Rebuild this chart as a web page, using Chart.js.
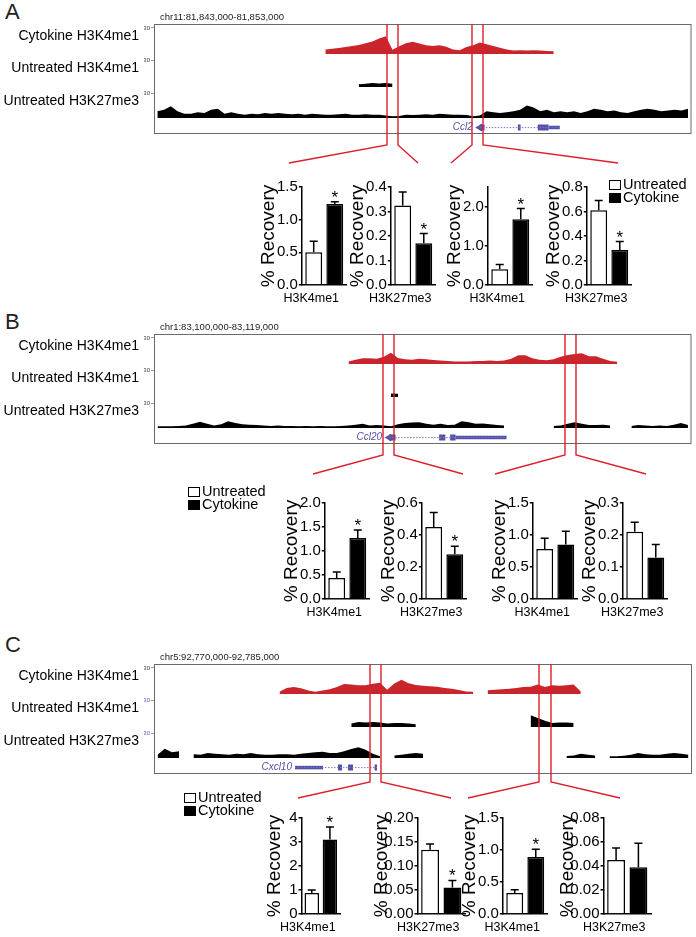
<!DOCTYPE html>
<html>
<head>
<meta charset="utf-8">
<script src="https://cdn.jsdelivr.net/npm/chart.js@4.4.1/dist/chart.umd.min.js"></script>
<style>
body { margin: 0; background: #fff; }
#page { position: relative; width: 696px; height: 937px; overflow: hidden; font-family: "Liberation Sans", Arial, sans-serif; }
.wrap { position: absolute; }
.letter { position: absolute; font-size: 22px; line-height: 22px; color: #222; }
.legbox { position: absolute; width: 10px; height: 8px; border: 1px solid #000; }
.legtxt { position: absolute; font-size: 14.5px; line-height: 17px; color: #000; white-space: nowrap; }
</style>
</head>
<body>
<div id="page"></div>
<script>
// ---- panel A : Ccl2 ----
const aRegion = [81843000, 81853000];
const aBin = 125;
const aCytoStart = 81846125;
const aCyto = [5.2, 6, 6.8, 8, 9.2, 10.4, 12.4, 14.4, 18, 20.4, 5, 9, 12.4, 14, 12, 10, 9.2, 10, 8.4, 5.2,
  4.4, 8, 10, 13.2, 11.2, 9.2, 7.2, 5.2, 4, 4.4, 4, 4.4, 4, 3.6, 3.2];
const aK4Start = 81846750;
const aK4 = [3, 3.5, 4.5, 4, 4.5, 3.5];
const aK27Start = 81843000;
const aK27 = [8, 10, 14, 8, 5, 5, 7, 6, 10, 11, 5, 7, 5, 4, 5, 4.5, 6, 5, 6, 5,
  4.5, 5, 4, 5, 4.5, 4, 4, 4.5, 5, 4, 4, 4.5, 4, 4, 3, 2, 2.5, 4, 3.5, 4,
  4.5, 4, 5, 4.5, 4, 4, 3.5, 2, 3, 8, 7, 6, 7, 8, 10, 15, 12.5, 8, 10, 7,
  8, 7, 8, 6, 8, 11, 10, 8, 9, 7, 6, 8, 10, 11, 10, 8, 9, 10, 9, 11];
const aGeneName = 'Ccl2';
const aGeneCds = [[81849060, 81849150], [81849770, 81849820], [81850140, 81850340]];
const aGeneUtr = [[81850340, 81850550]];
const aAmplicons = [[81847330, 81847540], [81848920, 81849120]];
const aTargets = ['H3K4me1', 'H3K27me3', 'H3K4me1', 'H3K27me3'];
const aUntreated = [0.5, 0.325, 0.4, 0.61];
const aUntreatedErr = [0.17, 0.055, 0.12, 0.08];
const aCytokine = [1.24, 0.17, 1.68, 0.285];
const aCytokineErr = [0.035, 0.04, 0.27, 0.07];
const aMax = [1.5, 0.4, 2.5, 0.8];
const aStep = [0.5, 0.1, 0.5, 0.2];
const aSig = [true, true, true, true];

// ---- panel B : Ccl20 ----
const bRegion = [83100000, 83119000];
const bBin = 250;
const bCytoStart = 83106750;
const bCyto = [3, 5, 6.5, 6.6, 6, 8.5, 13, 7, 5.5, 5, 6, 5.5, 4.7, 4, 3.5, 3, 2.8, 3, 3.4, 3.6,
  4, 3.5, 4, 6, 10, 10, 6.5, 5, 4.3, 5.5, 8.5, 10.5, 11.5, 12.5, 9, 9, 6, 3.5, 2.5];
const bK4Start = 83108250;
const bK4 = [4, 3.5];
const bK27Start = 83100000;
const bK27 = [2, 2, 2.2, 2.5, 3, 5, 7.5, 5, 3, 4.5, 8, 6, 4.5, 4, 3.5, 3, 2.5, 3, 2.5, 2.5,
  2, 2.5, 2.2, 2.5, 2, 2.2, 2.5, 3, 4, 5, 3, 3.5, 3, 2, 4.5, 6, 6.5, 7, 5, 4,
  5, 3.5, 4, 8, 7, 5, 5.5, 4.5, 3.5, 3, null, null, null, null, null, null, 2.5, 3, 5, 7,
  5, 3.5, 3.5, 4, 3, null, null, 2.5, 3.5, 3, 2.5, 3, 2.5, 4, 6, 3.5];
const bGeneName = 'Ccl20';
const bGeneCds = [[83108310, 83108540], [83110080, 83110300], [83110470, 83110660]];
const bGeneUtr = [[83110660, 83112460]];
const bAmplicons = [[83108105, 83108497], [83114535, 83114934]];
const bTargets = ['H3K4me1', 'H3K27me3', 'H3K4me1', 'H3K27me3'];
const bUntreated = [0.44, 0.45, 0.78, 0.21];
const bUntreatedErr = [0.12, 0.09, 0.17, 0.03];
const bCytokine = [1.27, 0.28, 0.85, 0.13];
const bCytokineErr = [0.17, 0.05, 0.21, 0.04];
const bMax = [2.0, 0.6, 1.5, 0.3];
const bStep = [0.5, 0.2, 0.5, 0.1];
const bSig = [true, true, false, false];

// ---- panel C : Cxcl10 ----
const cRegion = [92770000, 92785000];
const cBin = 200;
const cCytoStart = 92773400;
const cCyto = [2.5, 7, 8, 6.5, 4, 2.5, 4, 5.5, 8, 11.5, 11, 10, 10, 11.7, 13, 5, 12, 16.5, 12.4, 10.5,
  9.5, 9, 8.5, 7, 6, 4.5, 3, 2.5, null, 4.4, 5, 5.5, 6, 7, 8, 8.5, 11, 8, 10, 9.5, 10, 11, 3];
const cK4Start = 92775400;
const cK4 = [4, 5.5, 5, 5.5, 5, 4, 4.5, 4.5, 4, 3,
  null, null, null, null, null, null, null, null, null, null, null, null, null, null, null,
  13, 10, 7, 4.5, 5, 5, 4.5];
const cK27Start = 92770000;
const cK27 = [4, 11, 7, 8, null, 4.5, 4, 6, 5, 4.5, 4, 5, 4.5, 6, 4.5, 4, 4, 4.5, 4.5, 4,
  5, 6, 6.8, 7.5, 6, 6, 8, 10.8, 12.8, 10, 5, 2, null, 3, 4, 5, 6, 5, null, null,
  null, null, null, null, null, null, null, null, null, null, null, null, null, null, null, null, null, 2.5, 3, 5,
  4, 3, null, 2, 2, 2.8, 4, 6, 4.5, 4, 4, 5, 6, 5, 4];
const cGeneName = 'Cxcl10';
const cGeneCds = [[92775130, 92775242], [92775409, 92775548], [92776150, 92776217]];
const cGeneUtr = [[92773931, 92774712]];
const cAmplicons = [[92776030, 92776330], [92780725, 92781055]];
const cTargets = ['H3K4me1', 'H3K27me3', 'H3K4me1', 'H3K27me3'];
const cUntreated = [0.87, 0.134, 0.33, 0.045];
const cUntreatedErr = [0.13, 0.012, 0.05, 0.01];
const cCytokine = [3.1, 0.055, 0.89, 0.039];
const cCytokineErr = [0.53, 0.015, 0.12, 0.02];
const cMax = [4, 0.2, 1.5, 0.08];
const cStep = [1, 0.05, 0.5, 0.02];
const cSig = [true, true, true, false];

const trackNames = ['Cytokine H3K4me1', 'Untreated H3K4me1', 'Untreated H3K27me3'];
const FONT = '"Liberation Sans", Arial, sans-serif';
const RED = '#c9252c';
const GENE = '#5252a8';

Chart.defaults.font.family = FONT;
Chart.defaults.color = '#000';
Chart.defaults.animation = false;

const page = document.getElementById('page');

function trackPoints(start, bin, values) {
  return values.map((v, i) => ({x: start + (i + 0.5) * bin, y: v}));
}

// gene parts as one line with gaps between pieces
function genePoints(parts) {
  const pts = [];
  parts.forEach(([s, e], i) => {
    if (i) pts.push({x: (parts[i - 1][1] + s) / 2, y: null});
    pts.push({x: s, y: 0.4}, {x: e, y: 0.4});
  });
  return pts;
}

const browserDeco = {
  id: 'browserDeco',
  afterDatasetsDraw(chart, args, o) {
    const {ctx, chartArea: ca, scales} = chart;
    const x = scales.x;
    ctx.save();
    ctx.strokeStyle = '#6a6a6a';
    ctx.lineWidth = 1;
    ctx.strokeRect(ca.left + 0.5, ca.top + 0.5, ca.width - 1, ca.height - 1);

    ctx.fillStyle = '#222';
    ctx.font = '9.5px ' + FONT;
    ctx.textAlign = 'left';
    ctx.textBaseline = 'alphabetic';
    ctx.fillText(o.chr, ca.left + 6, ca.top - 4);

    ctx.fillStyle = '#000';
    ctx.font = '14px ' + FONT;
    ctx.textAlign = 'right';
    ctx.textBaseline = 'middle';
    ['yCyto', 'yK4', 'yK27'].forEach((id, i) => {
      ctx.fillText(trackNames[i], 139, scales[id].getPixelForValue(30) + 8);
    });

    ctx.fillStyle = GENE;
    ctx.font = 'italic 10px ' + FONT;
    ctx.fillText(o.gene, x.getPixelForValue(o.geneStart) - (o.arrow ? 7 : 3), scales.yGene.getPixelForValue(0.4));

    ctx.strokeStyle = '#dc1f2c';
    ctx.lineWidth = 1.4;
    o.amplicons.flat().forEach((pos, k) => {
      const px = Math.round(x.getPixelForValue(pos));
      ctx.beginPath();
      ctx.moveTo(px, ca.top);
      ctx.lineTo(px, ca.bottom + o.drop);
      ctx.lineTo(o.ends[k], o.endY - o.top);
      ctx.stroke();
    });
    ctx.restore();
  }
};

function trackAxis(max, weight, order, color) {
  return {
    type: 'linear', position: 'left', stack: 'tracks', stackWeight: weight, weight: order,
    min: 0, max: max,
    afterBuildTicks: s => { s.ticks = [{value: 30}]; },
    afterFit: s => { s.width = 10; },
    ticks: {font: {size: 6}, color: color, padding: 1},
    grid: {drawOnChartArea: false, drawTicks: true, tickLength: 3, color: '#999'},
    border: {display: false}
  };
}

function browser(p) {
  const cv = document.createElement('canvas');
  cv.width = 696;
  cv.height = 174;
  cv.style.position = 'absolute';
  cv.style.left = '0px';
  cv.style.top = (p.boxTop - 24) + 'px';
  page.appendChild(cv);
  const allParts = p.cds.concat(p.utr);
  const gStart = Math.min(...allParts.map(r => r[0]));
  const gEnd = Math.max(...allParts.map(r => r[1]));
  const area = (data, axis, color) => ({
    data: data, yAxisID: axis, fill: 'origin', backgroundColor: color,
    borderWidth: 0, pointRadius: 0, tension: 0, spanGaps: false
  });
  const datasets = [
    area(trackPoints(p.cytoStart, p.bin, p.cyto), 'yCyto', RED),
    area(trackPoints(p.k4Start, p.bin, p.k4), 'yK4', '#000'),
    area(trackPoints(p.k27Start, p.bin, p.k27), 'yK27', '#000'),
    {data: [{x: gStart, y: 0.4}, {x: gEnd, y: 0.4}], yAxisID: 'yGene', borderColor: '#7a7ac4',
      borderWidth: 1, borderDash: [1.5, 1.5], pointRadius: 0, fill: false},
    {data: genePoints(p.utr), yAxisID: 'yGene', borderColor: GENE, borderWidth: 3.5,
      borderCapStyle: 'butt', pointRadius: 0, fill: false, spanGaps: false},
    {data: genePoints(p.cds), yAxisID: 'yGene', borderColor: GENE, borderWidth: 6,
      borderCapStyle: 'butt', pointRadius: 0, fill: false, spanGaps: false}
  ];
  if (p.arrow) {
    datasets.push({data: [{x: gStart, y: 0.4}], yAxisID: 'yGene', showLine: false,
      pointStyle: 'triangle', rotation: -90, pointRadius: 4.5, backgroundColor: GENE, borderWidth: 0});
  }
  new Chart(cv, {
    type: 'line',
    data: {datasets: datasets},
    options: {
      responsive: false,
      events: [],
      layout: {padding: {top: 24, left: 144, right: 4, bottom: 40}},
      plugins: {
        legend: {display: false},
        tooltip: {enabled: false},
        browserDeco: {
          chr: p.chr, gene: p.geneName, geneStart: gStart, arrow: p.arrow,
          amplicons: p.amplicons, drop: p.drop, ends: p.ends, endY: p.endY, top: p.boxTop - 24
        }
      },
      scales: {
        x: {type: 'linear', min: p.region[0], max: p.region[1], display: false},
        yCyto: trackAxis(34.6, 30, 4, p.scaleColors[0]),
        yK4: trackAxis(36.7, 33, 3, p.scaleColors[1]),
        yK27: trackAxis(37.2, 31, 2, p.scaleColors[2]),
        yGene: {type: 'linear', position: 'left', stack: 'tracks', stackWeight: 16, weight: 1,
          min: 0, max: 1, afterFit: s => { s.width = 10; },
          ticks: {display: false}, grid: {display: false}, border: {display: false}}
      }
    },
    plugins: [browserDeco]
  });
}

const errorBars = {
  id: 'errorBars',
  afterDatasetsDraw(chart) {
    const {ctx} = chart;
    const y = chart.scales.y;
    ctx.save();
    ctx.strokeStyle = '#000';
    ctx.fillStyle = '#000';
    ctx.lineWidth = 1.5;
    chart.data.datasets.forEach((ds, di) => {
      chart.getDatasetMeta(di).data.forEach((bar, i) => {
        const top = y.getPixelForValue(ds.data[i] + ds.errors[i]);
        ctx.beginPath();
        ctx.moveTo(bar.x, bar.y);
        ctx.lineTo(bar.x, top);
        ctx.moveTo(bar.x - 4, top);
        ctx.lineTo(bar.x + 4, top);
        ctx.stroke();
        if (ds.sig[i]) {
          ctx.font = '17px ' + FONT;
          ctx.textAlign = 'center';
          ctx.textBaseline = 'alphabetic';
          ctx.fillText('*', bar.x, top + 1);
        }
      });
    });
    ctx.restore();
  }
};

function barChart(axisX, plotTop, plotBottom, label, u, ue, c, ce, max, step, sig) {
  const wrap = document.createElement('div');
  wrap.className = 'wrap';
  const cv = document.createElement('canvas');
  cv.width = 130;
  cv.height = 150;
  wrap.appendChild(cv);
  page.appendChild(wrap);
  const dec = step >= 1 ? 0 : (step < 0.1 ? 2 : 1);
  const chart = new Chart(cv, {
    type: 'bar',
    data: {
      labels: [label],
      datasets: [
        {label: 'Untreated', data: [u], errors: [ue], sig: [false], backgroundColor: '#fff',
          borderColor: '#000', borderWidth: 1.5},
        {label: 'Cytokine', data: [c], errors: [ce], sig: [sig], backgroundColor: '#000',
          borderColor: '#000', borderWidth: 1.5}
      ]
    },
    options: {
      responsive: false,
      events: [],
      layout: {padding: {top: 8, right: 10, bottom: 0, left: 0}},
      datasets: {bar: {categoryPercentage: 0.94, barPercentage: 0.8}},
      plugins: {legend: {display: false}, tooltip: {enabled: false}},
      scales: {
        x: {
          grid: {display: false, drawTicks: false},
          border: {color: '#000', width: 1.5},
          ticks: {font: {size: 12.5}, padding: 6, maxRotation: 0, minRotation: 0, autoSkip: false,
            labelOffset: -13, color: '#000'}
        },
        y: {
          min: 0, max: max,
          ticks: {stepSize: step, font: {size: 15}, padding: 1, color: '#000', callback: v => v.toFixed(dec)},
          grid: {drawOnChartArea: false, tickLength: 3, color: '#000', lineWidth: 1.5},
          border: {color: '#000', width: 1.5},
          title: {display: true, text: '% Recovery', font: {size: 19}, padding: {top: 0, bottom: 6}, color: '#000'}
        }
      }
    },
    plugins: [errorBars]
  });
  const ca = chart.chartArea;
  chart.options.layout.padding.right = cv.width - ca.left - 35;
  chart.options.layout.padding.bottom = (ca.bottom - ca.top) - (plotBottom - plotTop);
  chart.update();
  wrap.style.left = (axisX - chart.chartArea.left) + 'px';
  wrap.style.top = (plotTop - chart.chartArea.top) + 'px';
}

function legend(x, y) {
  ['Untreated', 'Cytokine'].forEach((t, r) => {
    const box = document.createElement('div');
    box.className = 'legbox';
    box.style.left = x + 'px';
    box.style.top = (y + 13 * r) + 'px';
    box.style.background = r ? '#000' : '#fff';
    page.appendChild(box);
    const txt = document.createElement('div');
    txt.className = 'legtxt';
    txt.style.left = (x + 14) + 'px';
    txt.style.top = (y + 13 * r - 4) + 'px';
    txt.textContent = t;
    page.appendChild(txt);
  });
}

function letter(t, top) {
  const d = document.createElement('div');
  d.className = 'letter';
  d.style.left = '5px';
  d.style.top = top + 'px';
  d.textContent = t;
  page.appendChild(d);
}

const panels = [
  {letter: 'A', letterTop: 1, chr: 'chr11:81,843,000-81,853,000', boxTop: 24, region: aRegion, bin: aBin,
    cytoStart: aCytoStart, cyto: aCyto, k4Start: aK4Start, k4: aK4, k27Start: aK27Start, k27: aK27,
    geneName: aGeneName, cds: aGeneCds, utr: aGeneUtr, arrow: true, amplicons: aAmplicons,
    drop: 11, ends: [289, 418, 451, 618], endY: 163, scaleColors: ['#444', '#444', '#444'],
    axes: [302, 391, 488, 587], plotTop: 187, plotBottom: 285, legend: [609, 180],
    targets: aTargets, u: aUntreated, ue: aUntreatedErr, c: aCytokine, ce: aCytokineErr,
    max: aMax, step: aStep, sig: aSig},
  {letter: 'B', letterTop: 311, chr: 'chr1:83,100,000-83,119,000', boxTop: 334, region: bRegion, bin: bBin,
    cytoStart: bCytoStart, cyto: bCyto, k4Start: bK4Start, k4: bK4, k27Start: bK27Start, k27: bK27,
    geneName: bGeneName, cds: bGeneCds, utr: bGeneUtr, arrow: true, amplicons: bAmplicons,
    drop: 11, ends: [313, 463, 495, 646], endY: 474, scaleColors: ['#444', '#444', '#444'],
    axes: [325, 422, 533, 623], plotTop: 503, plotBottom: 599, legend: [188, 487],
    targets: bTargets, u: bUntreated, ue: bUntreatedErr, c: bCytokine, ce: bCytokineErr,
    max: bMax, step: bStep, sig: bSig},
  {letter: 'C', letterTop: 634, chr: 'chr5:92,770,000-92,785,000', boxTop: 664, region: cRegion, bin: cBin,
    cytoStart: cCytoStart, cyto: cCyto, k4Start: cK4Start, k4: cK4, k27Start: cK27Start, k27: cK27,
    geneName: cGeneName, cds: cGeneCds, utr: cGeneUtr, arrow: false, amplicons: cAmplicons,
    drop: 8, ends: [298, 451, 468, 620], endY: 798, scaleColors: ['#444', '#5b5bb3', '#5b5bb3'],
    axes: [302, 417, 503, 603], plotTop: 818, plotBottom: 914, legend: [184, 793],
    targets: cTargets, u: cUntreated, ue: cUntreatedErr, c: cCytokine, ce: cCytokineErr,
    max: cMax, step: cStep, sig: cSig}
];

panels.forEach(p => {
  letter(p.letter, p.letterTop);
  browser(p);
  p.targets.forEach((t, i) => {
    barChart(p.axes[i], p.plotTop, p.plotBottom, t, p.u[i], p.ue[i], p.c[i], p.ce[i], p.max[i], p.step[i], p.sig[i]);
  });
  legend(p.legend[0], p.legend[1]);
});
</script>
</body>
</html>
